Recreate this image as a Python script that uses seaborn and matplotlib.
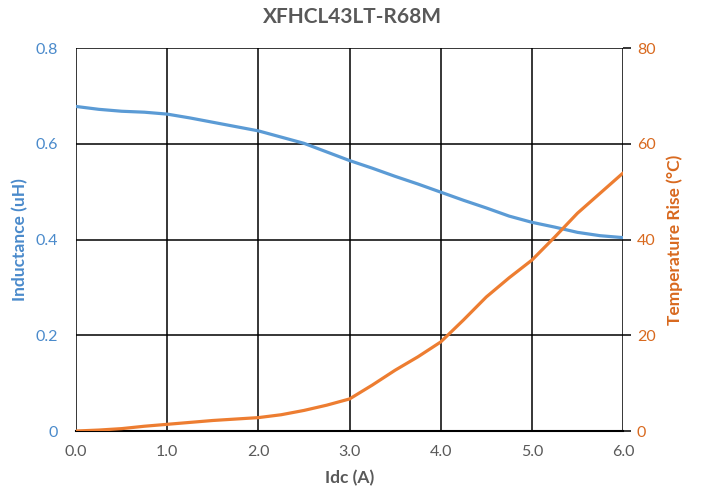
import matplotlib
matplotlib.use("Agg")
import matplotlib.pyplot as plt
import seaborn as sns
import pandas as pd

idc = [0.0, 0.25, 0.5, 0.75, 1.0, 1.25, 1.5, 1.75, 2.0, 2.25, 2.5, 2.75,
       3.0, 3.25, 3.5, 3.75, 4.0, 4.25, 4.5, 4.75, 5.0, 5.25, 5.5, 5.75, 6.0]
inductance = [0.678, 0.672, 0.668, 0.666, 0.662, 0.654, 0.645, 0.636, 0.627, 0.614, 0.601, 0.583,
              0.565, 0.549, 0.532, 0.516, 0.499, 0.482, 0.466, 0.449, 0.436, 0.426, 0.415, 0.408, 0.404]
temp_rise = [0.0, 0.2, 0.5, 1.0, 1.4, 1.8, 2.2, 2.5, 2.8, 3.4, 4.3, 5.4,
             6.7, 9.6, 12.7, 15.5, 18.6, 23.2, 28.0, 32.0, 35.7, 40.5, 45.5, 49.7, 53.9]

x_ticks = [0, 1, 2, 3, 4, 5, 6]
x_labels = ["0.0", "1.0", "2.0", "3.0", "4.0", "5.0", "6.0"]
l_ticks = [0, 0.2, 0.4, 0.6, 0.8]
l_labels = ["0", "0.2", "0.4", "0.6", "0.8"]
r_ticks = [0, 20, 40, 60, 80]
r_labels = ["0", "20", "40", "60", "80"]

title = "XFHCL43LT-R68M"
xlabel = "Idc (A)"
ylabel_l = "Inductance (uH)"
ylabel_r = "Temperature Rise (°C)"

sns.set_style("white")
plt.rcParams["font.family"] = ["Lato", "DejaVu Sans"]

blue = "#5B9BD5"
orange = "#ED7D31"
blue_txt = "#4A8ACB"
orange_txt = "#D8691F"
gray = "#595959"

df = pd.DataFrame({"idc": idc, "L": inductance, "T": temp_rise})

fig = plt.figure(figsize=(7.04, 4.98), dpi=100)
ax = fig.add_axes([0.108, 0.1345, 0.777, 0.769])
ax2 = ax.twinx()

sns.lineplot(data=df, x="idc", y="L", ax=ax, color=blue, linewidth=2.3)
sns.lineplot(data=df, x="idc", y="T", ax=ax2, color=orange, linewidth=2.3)

ax.set_xlim(0, 6)
ax.set_ylim(0, 0.8)
ax2.set_ylim(0, 80)
ax.set_xticks(x_ticks)
ax.set_xticklabels(x_labels, color=gray, fontsize=11.5)
ax.set_yticks(l_ticks)
ax.set_yticklabels(l_labels, color=blue_txt, fontsize=11.5)
ax2.set_yticks(r_ticks)
ax2.set_yticklabels(r_labels, color=orange_txt, fontsize=11.5)

ax.grid(True, color="black", linewidth=1.1)
ax.set_axisbelow(True)
for s in ax.spines.values():
    s.set_visible(False)
for s in ax2.spines.values():
    s.set_visible(False)
ax.spines["bottom"].set_visible(True)
ax.spines["bottom"].set_color("black")
ax.spines["bottom"].set_linewidth(1.5)

ax.tick_params(axis="x", length=0, pad=10)
ax.tick_params(axis="y", length=0, pad=13)
ax2.tick_params(axis="y", length=6, width=1.1, color="black", pad=4, direction="out")

ax.set_xlabel(xlabel, color=gray, fontsize=12.5, fontweight="bold", labelpad=8)
ax.set_ylabel(ylabel_l, color=blue_txt, fontsize=12.5, fontweight="bold", labelpad=5)
ax2.set_ylabel(ylabel_r, color=orange_txt, fontsize=12.5, fontweight="bold", labelpad=8)
fig.suptitle(title, color=gray, fontsize=15, fontweight="bold", y=0.985)

fig.savefig("out.png", dpi=100, facecolor="white")
